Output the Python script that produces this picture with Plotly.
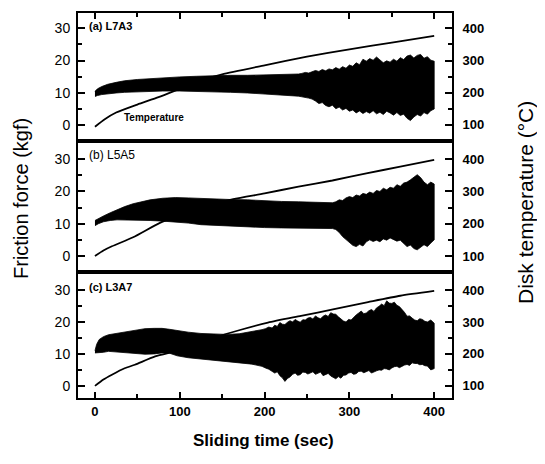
import plotly.graph_objects as go

# ---------------- data ----------------
# Panel (a) L7A3 : friction force band envelope (kgf)
t_a = [0, 3, 8, 15, 25, 35, 50, 65, 80, 100, 120, 140, 160, 180, 200, 220, 240, 244, 248, 252, 256, 260, 264, 268, 272, 276, 280, 284, 288, 292, 296, 300, 304, 308, 312, 316, 320, 324, 328, 332, 336, 340, 344, 348, 352, 356, 360, 364, 368, 372, 376, 380, 384, 388, 392, 396, 400]
up_a = [10.4, 11.2, 11.9, 12.6, 13.2, 13.7, 14.1, 14.4, 14.6, 14.9, 15.1, 15.3, 15.4, 15.4, 15.5, 15.6, 15.8, 16.0, 16.3, 16.1, 16.6, 16.9, 16.6, 17.2, 16.8, 17.4, 17.1, 17.8, 17.3, 18.1, 17.6, 18.6, 18.2, 19.3, 18.7, 20.4, 19.8, 20.6, 20.1, 21.1, 20.2, 19.3, 19.9, 19.5, 20.4, 19.8, 20.9, 20.3, 21.4, 21.7, 20.8, 21.6, 21.9, 20.7, 21.2, 20.1, 19.8]
lo_a = [8.8, 9.1, 9.4, 9.7, 9.9, 10.1, 10.3, 10.4, 10.5, 10.5, 10.4, 10.3, 10.1, 9.9, 9.6, 9.3, 8.9, 8.7, 8.6, 8.3, 8.0, 7.4, 6.6, 6.9, 6.0, 5.6, 6.1, 5.0, 5.5, 4.6, 5.1, 4.2, 4.6, 3.7, 4.3, 3.5, 4.1, 3.6, 4.4, 3.4, 3.9, 3.2, 4.2, 3.7, 3.0, 3.8, 2.9, 3.3, 2.0, 1.3, 2.4, 3.2, 2.7, 3.8, 3.3, 4.4, 4.9]
# Panel (a) disk temperature (degC)
tT_a = [0, 12, 25, 50, 75, 100, 125, 150, 200, 250, 300, 350, 400]
T_a = [94, 118, 138, 163, 186, 212, 238, 257, 285, 312, 335, 356, 377]

# Panel (b) L5A5
t_b = [0, 4, 10, 18, 26, 35, 45, 55, 65, 80, 95, 110, 125, 140, 160, 180, 200, 220, 240, 255, 270, 280, 284, 288, 292, 296, 300, 304, 308, 312, 316, 320, 324, 328, 332, 336, 340, 344, 348, 352, 356, 360, 364, 368, 372, 376, 380, 384, 388, 392, 396, 400]
up_b = [11.0, 11.6, 12.4, 13.4, 14.4, 15.3, 16.2, 16.9, 17.4, 17.9, 18.1, 18.0, 17.8, 17.6, 17.5, 17.4, 17.1, 16.9, 16.8, 16.6, 16.5, 16.5, 16.8, 17.4, 17.2, 18.0, 18.4, 18.1, 18.9, 18.6, 19.4, 19.1, 19.8, 19.4, 20.3, 20.0, 21.0, 20.5, 21.3, 21.0, 22.1, 21.6, 22.6, 22.9, 23.6, 24.4, 25.2, 24.3, 22.9, 22.1, 22.9, 22.3]
lo_b = [9.4, 10.0, 10.6, 11.0, 11.2, 11.2, 11.2, 11.1, 11.0, 10.8, 10.6, 10.2, 9.7, 9.5, 9.2, 9.0, 8.8, 8.7, 8.6, 8.6, 8.5, 8.5, 8.2, 7.3, 6.0, 4.9, 4.2, 3.3, 2.9, 3.6, 3.1, 4.4, 5.0, 4.5, 4.9, 4.4, 5.3, 4.9, 5.6, 5.0, 4.6, 4.9, 3.8, 2.9, 3.4, 2.3, 1.9, 2.6, 3.5, 2.9, 4.0, 5.0]
tT_b = [0, 10, 20, 45, 76, 100, 130, 163, 200, 240, 280, 320, 360, 400]
T_b = [100, 117, 130, 158, 202, 226, 253, 276, 294, 315, 334, 356, 377, 398]

# Panel (c) L3A7
t_c = [0, 2, 5, 10, 16, 25, 35, 47, 59, 70, 79, 88, 97, 110, 125, 140, 155, 170, 185, 197, 201, 205, 209, 212, 215, 218, 221, 224, 227, 230, 233, 236, 239, 242, 245, 248, 251, 254, 257, 260, 263, 266, 269, 272, 275, 278, 281, 284, 287, 290, 293, 296, 299, 302, 305, 308, 311, 314, 317, 320, 323, 326, 329, 332, 335, 338, 341, 344, 347, 350, 353, 356, 359, 362, 365, 368, 371, 374, 377, 380, 383, 386, 389, 392, 396, 400]
up_c = [11.0, 13.0, 14.5, 15.4, 16.0, 16.4, 16.7, 17.3, 17.9, 18.0, 18.0, 17.7, 17.3, 16.8, 16.4, 16.2, 16.1, 16.3, 16.9, 17.6, 17.9, 18.4, 18.1, 19.0, 18.6, 19.8, 19.3, 19.2, 19.9, 20.4, 20.0, 20.8, 20.3, 19.9, 20.7, 20.6, 21.2, 21.4, 20.9, 21.9, 21.3, 21.0, 21.8, 22.2, 21.7, 22.9, 22.5, 22.4, 21.6, 21.0, 20.3, 20.0, 20.8, 20.6, 21.5, 22.2, 22.8, 23.4, 22.6, 22.8, 23.5, 23.9, 23.3, 24.4, 24.9, 25.6, 25.1, 26.6, 25.9, 25.8, 26.2, 25.2, 24.8, 24.0, 23.0, 21.8, 21.9, 21.2, 20.6, 20.4, 21.0, 20.8, 20.2, 20.0, 20.6, 19.6]
lo_c = [10.3, 10.2, 10.3, 10.5, 10.8, 10.7, 10.5, 10.2, 9.9, 10.0, 10.3, 10.2, 9.4, 8.8, 8.3, 7.9, 7.6, 7.2, 6.8, 6.1, 5.6, 5.2, 4.6, 4.0, 4.4, 3.2, 2.5, 1.4, 2.3, 2.8, 3.6, 4.0, 3.3, 3.5, 4.3, 4.2, 3.7, 4.0, 4.4, 3.6, 3.9, 4.3, 3.2, 3.5, 3.9, 3.1, 2.6, 2.2, 2.9, 2.4, 3.3, 3.4, 4.0, 4.2, 3.6, 3.8, 4.5, 4.6, 4.1, 4.4, 4.8, 4.0, 4.4, 4.7, 5.0, 4.9, 5.4, 5.3, 5.0, 5.6, 6.0, 6.1, 5.7, 6.0, 6.5, 6.7, 6.4, 7.2, 7.0, 7.0, 6.6, 6.7, 6.3, 6.2, 5.0, 5.4]
tT_c = [0, 10, 20, 35, 47, 71, 100, 140, 170, 204, 243, 282, 322, 360, 400]
T_c = [100, 120, 135, 155, 166, 192, 212, 250, 274, 298, 319, 340, 362, 382, 397]

panel_labels = ["(a) L7A3", "(b) L5A5", "(c) L3A7"]
friction_ticks = [0, 10, 20, 30]
temp_ticks = [100, 200, 300, 400]
time_ticks = [0, 100, 200, 300, 400]

# ---------------- geometry ----------------
# the page body has an 8px margin; size the figure so the plot lands where it should
OFF = 8
W, H = 545 - OFF, 464 - OFF
L, T_, R, B = 70, 5, 93, 66
pw, ph = W - L - R, H - T_ - B

fig = go.Figure()

panels = [
    (t_a, up_a, lo_a, tT_a, T_a, "x3", "y", "y2"),
    (t_b, up_b, lo_b, tT_b, T_b, "x2", "y3", "y4"),
    (t_c, up_c, lo_c, tT_c, T_c, "x", "y5", "y6"),
]
for t, up, lo, tT, T, xa, yf, yt in panels:
    fig.add_trace(go.Scatter(
        x=list(t) + list(t)[::-1], y=list(up) + list(lo)[::-1],
        fill="toself", fillcolor="black", mode="lines",
        line=dict(color="black", width=0.8), xaxis=xa, yaxis=yf,
        showlegend=False, hoverinfo="skip"))
    fig.add_trace(go.Scatter(
        x=tT, y=T, mode="lines",
        line=dict(color="black", width=1.8, shape="spline", smoothing=0.6),
        xaxis=xa, yaxis=yt, showlegend=False))

FONT = "Liberation Sans"
xr = [-20, 421]
common_x = dict(range=xr, showline=True, linewidth=2, linecolor="black",
                mirror=True, showgrid=False, zeroline=False)
left_tickfont = dict(family=FONT, size=14, color="black")
right_tickfont = dict(family=FONT, size=13, color="black", weight="bold")


def left_y(domain, rng):
    return dict(domain=domain, range=rng, showline=True, linewidth=2, linecolor="black",
                ticks="inside", ticklen=7, tickwidth=2, tickcolor="black",
                tickvals=friction_ticks, tickfont=left_tickfont, ticklabelstandoff=3,
                minor=dict(tickvals=[5, 15, 25], ticks="inside", ticklen=4,
                           tickwidth=2, tickcolor="black", showgrid=False),
                showgrid=False, zeroline=False, anchor="x")


def right_y(over, rng):
    return dict(overlaying=over, side="right", range=rng, showline=True, linewidth=2,
                linecolor="black", ticks="inside", ticklen=7, tickwidth=2, tickcolor="black",
                tickvals=temp_ticks, tickfont=right_tickfont, ticklabelstandoff=6,
                minor=dict(tickvals=[150, 250, 350], ticks="inside", ticklen=4,
                           tickwidth=2, tickcolor="black", showgrid=False),
                showgrid=False, zeroline=False, anchor="x")


fig.update_layout(
    width=W, height=H,
    margin=dict(l=L, r=R, t=T_, b=B, autoexpand=False),
    paper_bgcolor="white", plot_bgcolor="white",
    showlegend=False,
    xaxis=dict(**common_x, anchor="y5", ticks="inside", ticklen=6, tickwidth=2,
               tickcolor="black", tickvals=time_ticks,
               tickfont=dict(family=FONT, size=13, color="black", weight="bold"),
               minor=dict(tickvals=[50, 150, 250, 350], ticks="inside", ticklen=4,
                          tickwidth=2, tickcolor="black", showgrid=False)),
    xaxis2=dict(**common_x, anchor="y3", matches="x", showticklabels=False, ticks=""),
    xaxis3=dict(**common_x, anchor="y", matches="x", side="top", showticklabels=False,
                ticks="inside", ticklen=6, tickwidth=2, tickcolor="black", tickvals=time_ticks,
                minor=dict(tickvals=[50, 150, 250, 350], ticks="inside", ticklen=4,
                           tickwidth=2, tickcolor="black", showgrid=False)),
    yaxis=left_y([0.668, 1.0], [-5, 34.8]),
    yaxis2=right_y("y", [50, 448]),
    yaxis3=left_y([0.327, 0.668], [-5, 35.7]),
    yaxis4=right_y("y3", [50, 457]),
    yaxis5=left_y([0.0, 0.327], [-3.8, 35.6]),
    yaxis6=right_y("y5", [62, 456]),
)

ann = []
label_fonts = [dict(size=11, weight="bold"), dict(size=12, weight="normal"), dict(size=11, weight="bold")]
for lab, yref, yv, lf in zip(panel_labels, ["y", "y3", "y5"], [30.6, 31.2, 31.0], label_fonts):
    ann.append(dict(text=lab, x=-9, y=yv, xref="x", yref=yref, xanchor="left",
                    yanchor="middle", showarrow=False,
                    font=dict(family=FONT, color="black", **lf)))
ann.append(dict(text="Temperature", x=70, y=2.2, xref="x", yref="y", showarrow=False,
                xanchor="center", yanchor="middle",
                font=dict(family=FONT, size=10, color="black", weight="bold")))
# (window pixel positions, converted to paper coordinates below)
ann.append(dict(text="Friction force (kgf)", x=21, y=199, xref="paper", yref="paper",
                showarrow=False, textangle=-90, xanchor="center", yanchor="middle",
                font=dict(family=FONT, size=20, color="black")))
ann.append(dict(text="Disk temperature (°C)", x=525, y=203, xref="paper", yref="paper",
                showarrow=False, textangle=-90, xanchor="center", yanchor="middle",
                font=dict(family=FONT, size=21, color="black")))
ann.append(dict(text="Sliding time (sec)", x=263, y=440, xref="paper", yref="paper",
                showarrow=False, xanchor="center", yanchor="middle",
                font=dict(family=FONT, size=17, color="black", weight="bold")))
for a in ann:
    if a["xref"] == "paper":
        fx, fy = a["x"] - OFF, a["y"] - OFF
        a["x"] = (fx - L) / pw
        a["y"] = (H - B - fy) / ph
fig.update_layout(annotations=ann)

fig.write_html("out.html")
